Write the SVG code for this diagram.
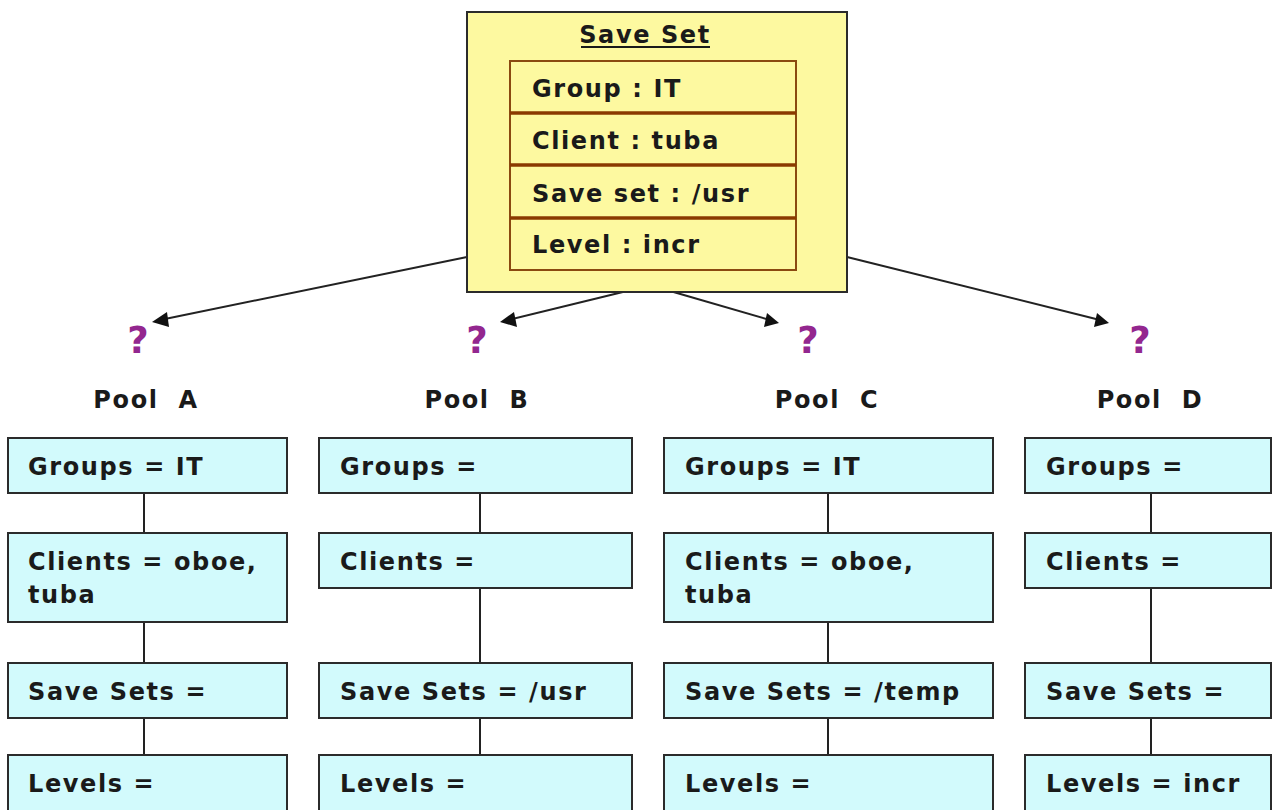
<svg xmlns="http://www.w3.org/2000/svg" width="1274" height="810" viewBox="0 0 1274 810">
<defs>
<style>
.t{font-family:"DejaVu Sans","Verdana",sans-serif;font-weight:bold;font-size:24px;fill:#1a1a1a;letter-spacing:1.6px}
.pool{fill:#d2fafc;stroke:#2b2b2b;stroke-width:2}
.ss{fill:#fdf9a0;stroke:#2b2b2b;stroke-width:2}
.row{fill:#fdf9a0;stroke:#8a4a10;stroke-width:2}
.div{stroke:#8a3a00;stroke-width:3.5}
.q{font-family:"DejaVu Sans",sans-serif;font-weight:bold;font-size:37px;fill:#93278f;text-anchor:middle}
.lbl{text-anchor:middle}
.c{stroke:#222;stroke-width:2;fill:none}
</style>
</defs>
<rect width="1274" height="810" fill="#ffffff"/>

<g id="connectors">
<line class="c" x1="467" y1="257" x2="160" y2="320"/>
<path d="M152,322 L167,312 L169,327 z" fill="#111"/>
<line class="c" x1="627" y1="291" x2="508" y2="320"/>
<path d="M500,322 L514,312 L517,327 z" fill="#111"/>
<line class="c" x1="670" y1="291" x2="770" y2="320"/>
<path d="M779,323 L764,327 L767,313 z" fill="#111"/>
<line class="c" x1="847" y1="257" x2="1100" y2="320"/>
<path d="M1109,323 L1094,327 L1097,313 z" fill="#111"/>

<line class="c" x1="144" y1="493" x2="144" y2="533"/>
<line class="c" x1="144" y1="622" x2="144" y2="663"/>
<line class="c" x1="144" y1="718" x2="144" y2="755"/>
<line class="c" x1="480" y1="493" x2="480" y2="533"/>
<line class="c" x1="480" y1="588" x2="480" y2="663"/>
<line class="c" x1="480" y1="718" x2="480" y2="755"/>
<line class="c" x1="828" y1="493" x2="828" y2="533"/>
<line class="c" x1="828" y1="622" x2="828" y2="663"/>
<line class="c" x1="828" y1="718" x2="828" y2="755"/>
<line class="c" x1="1151" y1="493" x2="1151" y2="533"/>
<line class="c" x1="1151" y1="588" x2="1151" y2="663"/>
<line class="c" x1="1151" y1="718" x2="1151" y2="755"/>
</g>

<g id="saveset">
<rect class="ss" x="467" y="12" width="380" height="280"/>
<text class="t lbl" x="645" y="43">Save Set</text>
<line x1="581" y1="47" x2="710" y2="47" stroke="#1a1a1a" stroke-width="2"/>
<rect class="row" x="510" y="61" width="286" height="209"/>
<line class="div" x1="510" y1="113" x2="796" y2="113"/>
<line class="div" x1="510" y1="165" x2="796" y2="165"/>
<line class="div" x1="510" y1="218" x2="796" y2="218"/>
<text class="t" x="532" y="97">Group : IT</text>
<text class="t" x="532" y="149">Client : tuba</text>
<text class="t" x="532" y="202">Save set : /usr</text>
<text class="t" x="532" y="253">Level : incr</text>
</g>

<g id="q-a"><text class="q" x="138" y="353">?</text></g>
<g id="q-b"><text class="q" x="477" y="353">?</text></g>
<g id="q-c"><text class="q" x="808" y="353">?</text></g>
<g id="q-d"><text class="q" x="1140" y="353">?</text></g>

<g id="pool-a">
<text class="t lbl" x="146" y="408" xml:space="preserve">Pool  A</text>
<rect class="pool" x="8" y="438" width="279" height="55"/>
<text class="t" x="28" y="475">Groups = IT</text>
<rect class="pool" x="8" y="533" width="279" height="89"/>
<text class="t" x="28" y="570">Clients = oboe,</text>
<text class="t" x="28" y="603">tuba</text>
<rect class="pool" x="8" y="663" width="279" height="55"/>
<text class="t" x="28" y="700">Save Sets =</text>
<rect class="pool" x="8" y="755" width="279" height="57"/>
<text class="t" x="28" y="792">Levels =</text>
</g>

<g id="pool-b">
<text class="t lbl" x="477" y="408" xml:space="preserve">Pool  B</text>
<rect class="pool" x="319" y="438" width="313" height="55"/>
<text class="t" x="340" y="475">Groups =</text>
<rect class="pool" x="319" y="533" width="313" height="55"/>
<text class="t" x="340" y="570">Clients =</text>
<rect class="pool" x="319" y="663" width="313" height="55"/>
<text class="t" x="340" y="700">Save Sets = /usr</text>
<rect class="pool" x="319" y="755" width="313" height="57"/>
<text class="t" x="340" y="792">Levels =</text>
</g>

<g id="pool-c">
<text class="t lbl" x="827" y="408" xml:space="preserve">Pool  C</text>
<rect class="pool" x="664" y="438" width="329" height="55"/>
<text class="t" x="685" y="475">Groups = IT</text>
<rect class="pool" x="664" y="533" width="329" height="89"/>
<text class="t" x="685" y="570">Clients = oboe,</text>
<text class="t" x="685" y="603">tuba</text>
<rect class="pool" x="664" y="663" width="329" height="55"/>
<text class="t" x="685" y="700">Save Sets = /temp</text>
<rect class="pool" x="664" y="755" width="329" height="57"/>
<text class="t" x="685" y="792">Levels =</text>
</g>

<g id="pool-d">
<text class="t lbl" x="1150" y="408" xml:space="preserve">Pool  D</text>
<rect class="pool" x="1025" y="438" width="246" height="55"/>
<text class="t" x="1046" y="475">Groups =</text>
<rect class="pool" x="1025" y="533" width="246" height="55"/>
<text class="t" x="1046" y="570">Clients =</text>
<rect class="pool" x="1025" y="663" width="246" height="55"/>
<text class="t" x="1046" y="700">Save Sets =</text>
<rect class="pool" x="1025" y="755" width="246" height="57"/>
<text class="t" x="1046" y="792">Levels = incr</text>
</g>
</svg>
